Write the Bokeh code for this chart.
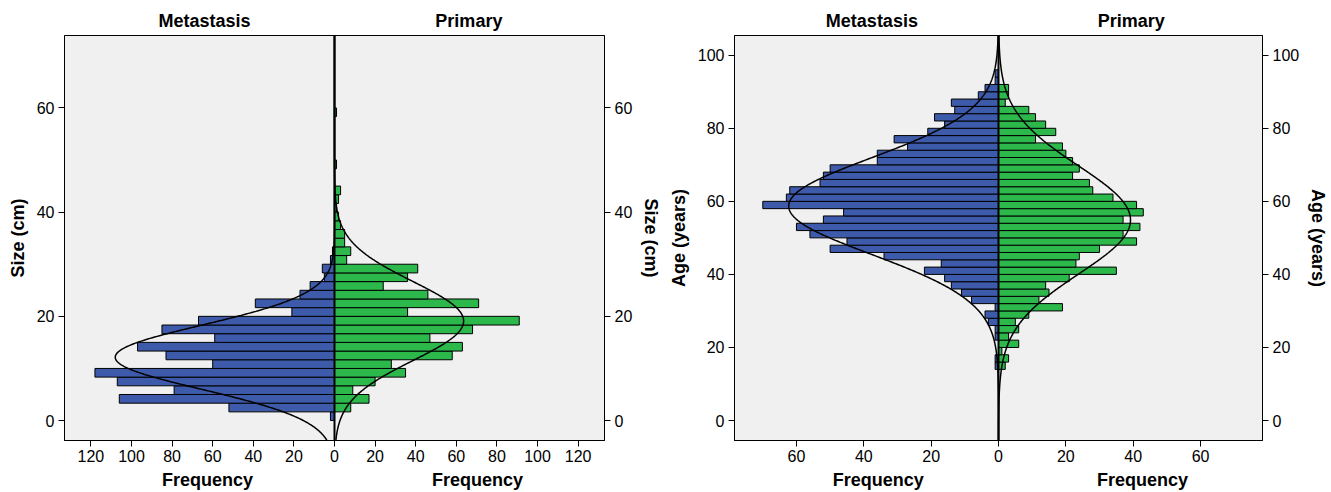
import numpy as np
from bokeh.plotting import figure
from bokeh.models import (LinearAxis, FixedTicker, CustomJSTickFormatter, Span,
                          Range1d, ColumnDataSource)
from bokeh.layouts import row
from bokeh.embed import file_html
from bokeh.resources import INLINE

# ---------------- data ----------------
# Panel 1: tumour size (cm), bin width 5/3 cm, bins start at 0
size_bin_width = 5.0 / 3.0
size_metastasis = [2, 52, 106, 79, 107, 118, 60, 83, 97, 59, 85, 67, 21, 39, 17, 12, 5, 6, 2, 1]
size_primary = [0, 8, 17, 9, 20, 35, 28, 58, 63, 47, 68, 91, 36, 71, 46, 24, 36, 41, 6, 8,
                5, 5, 3, 2, 1, 2, 3, 0, 0, 1, 0, 0, 0, 0, 0, 1]
# fitted normal curves: (mean, sd, peak frequency)
size_curve_metastasis = (12.15, 6.15, 108.0)
size_curve_primary = (19.1, 7.6, 63.6)
size_x_ticks = [-120, -100, -80, -60, -40, -20, 0, 20, 40, 60, 80, 100, 120]
size_y_ticks = [0, 20, 40, 60]

# Panel 2: age (years), bin width 2 years
age_bin_width = 2.0
age_bin_lower = list(range(14, 96, 2))
age_metastasis = [1, 1, 0, 0, 1, 1, 3, 4, 1, 8, 11, 14, 16, 22, 17, 34, 50, 45, 56, 60, 52,
                  46, 70, 63, 62, 53, 52, 50, 36, 36, 27, 31, 21, 16, 19, 13, 14, 6, 4, 1, 1]
age_primary = [2, 3, 1, 6, 3, 6, 5, 9, 19, 12, 15, 14, 21, 35, 23, 24, 30, 41, 37, 42, 37,
               43, 41, 34, 28, 27, 22, 24, 22, 20, 19, 11, 17, 14, 11, 9, 2, 3, 3, 0, 0]
age_curve_metastasis = (58.7, 13.2, 62.3)
age_curve_primary = (54.9, 14.8, 39.2)
age_x_ticks = [-60, -40, -20, 0, 20, 40, 60]
age_y_ticks = [0, 20, 40, 60, 80, 100]

BLUE = "#3e5bab"
GREEN = "#2db84b"
FONT = "Liberation Sans"


def panel(lower, width, meta, prim, cmeta, cprim, xr, yr, xt, yt, ylabel,
          fig_w, fig_h, title_pos, freq_pos, borders):
    p = figure(width=fig_w, height=fig_h,
               x_range=Range1d(-xr, xr), y_range=Range1d(*yr),
               output_backend="svg", toolbar_location=None,
               min_border_left=borders[0], min_border_right=borders[1],
               min_border_top=borders[2], min_border_bottom=borders[3])
    p.background_fill_color = "#f0f0f0"
    p.border_fill_color = "white"
    p.outline_line_color = "black"
    p.outline_line_width = 1
    p.grid.visible = False

    centers_m = [lower[i] + width / 2 for i in range(len(meta))]
    centers_p = [lower[i] + width / 2 for i in range(len(prim))]
    sm = ColumnDataSource(dict(y=[c for c, v in zip(centers_m, meta) if v > 0],
                               left=[-v for v in meta if v > 0]))
    sp = ColumnDataSource(dict(y=[c for c, v in zip(centers_p, prim) if v > 0],
                               right=[v for v in prim if v > 0]))
    p.hbar(y="y", left="left", right=0, height=width, source=sm,
           fill_color=BLUE, line_color="black", line_width=1)
    p.hbar(y="y", left=0, right="right", height=width, source=sp,
           fill_color=GREEN, line_color="black", line_width=1)

    yy = np.linspace(yr[0], yr[1], 600)
    m, s, pk = cmeta
    p.line(-pk * np.exp(-0.5 * ((yy - m) / s) ** 2), yy, line_color="black", line_width=1.5)
    m, s, pk = cprim
    p.line(pk * np.exp(-0.5 * ((yy - m) / s) ** 2), yy, line_color="black", line_width=1.5)

    p.add_layout(Span(location=0, dimension="height", line_color="black", line_width=2))

    def style(ax, size="16px"):
        ax.major_label_text_font = FONT
        ax.major_label_text_font_size = size
        ax.major_label_text_color = "black"
        ax.axis_line_color = "black"
        ax.major_tick_line_color = "black"
        ax.major_tick_out = 6
        ax.major_tick_in = 0
        ax.minor_tick_line_color = None
        ax.axis_label_text_font = FONT
        ax.axis_label_text_font_size = "18px"
        ax.axis_label_text_font_style = "bold"
        ax.axis_label_text_color = "black"

    # bottom tick axis
    xa = p.xaxis[0]
    xa.ticker = FixedTicker(ticks=xt)
    xa.formatter = CustomJSTickFormatter(code="return String(Math.abs(tick));")
    style(xa)
    xa.major_label_standoff = 3

    # left / right y axes
    ya = p.yaxis[0]
    ya.ticker = FixedTicker(ticks=yt)
    style(ya)
    ya.axis_label = ylabel
    ya.major_label_standoff = 4
    ya.axis_label_standoff = 6
    yr_ax = LinearAxis(ticker=FixedTicker(ticks=yt), axis_label=ylabel)
    style(yr_ax)
    yr_ax.major_label_standoff = 4
    yr_ax.axis_label_standoff = 6
    p.add_layout(yr_ax, "right")

    # group titles on top
    top = LinearAxis(ticker=FixedTicker(ticks=list(title_pos)),
                     formatter=CustomJSTickFormatter(
                         args=dict(a="Metastasis", b="Primary"),
                         code="return tick < 0 ? a : b;"))
    style(top, "18px")
    top.major_label_text_font_style = "bold"
    top.axis_line_color = None
    top.major_tick_line_color = None
    top.major_tick_out = 0
    top.major_label_standoff = 5
    p.add_layout(top, "above")

    # "Frequency" labels under each half
    fr = LinearAxis(ticker=FixedTicker(ticks=list(freq_pos)),
                    formatter=CustomJSTickFormatter(
                        args=dict(a="Frequency"), code="return a;"))
    style(fr, "18px")
    fr.major_label_text_font_style = "bold"
    fr.axis_line_color = None
    fr.major_tick_line_color = None
    fr.major_tick_out = 0
    fr.major_label_standoff = 5
    p.add_layout(fr, "below")
    return p


size_lower = [i * size_bin_width for i in range(len(size_primary))]
p1 = panel(size_lower, size_bin_width, size_metastasis, size_primary,
           size_curve_metastasis, size_curve_primary,
           133, (-3.83, 73.9), size_x_ticks, size_y_ticks, "Size (cm)",
           665, 492, (-64, 66.2), (-62.5, 70.5), (64, 61, 35, 51))
p2 = panel(age_bin_lower, age_bin_width, age_metastasis, age_primary,
           age_curve_metastasis, age_curve_primary,
           78.4, (-5.47, 105.4), age_x_ticks, age_y_ticks, "Age (years)",
           666, 492, (-37.6, 39.4), (-35.7, 42.8), (69, 69, 35, 51))

layout = row(p1, p2)
open("out.html", "w").write(file_html(layout, INLINE))
